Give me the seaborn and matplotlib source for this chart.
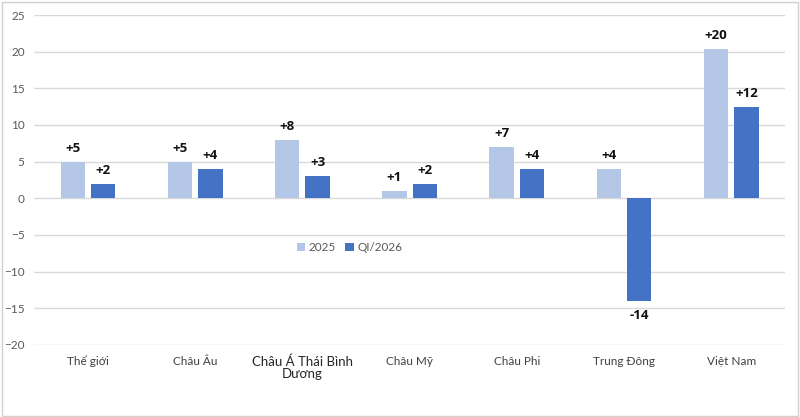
import pandas as pd
import matplotlib
matplotlib.use("Agg")
import matplotlib.pyplot as plt
import seaborn as sns
from matplotlib.patches import Rectangle

# Data
regions = ['Thế giới', 'Châu Âu', 'Châu Á Thái Bình\nDương', 'Châu Mỹ',
           'Châu Phi', 'Trung Đông', 'Việt Nam']
val_2025 = [5, 5, 8, 1, 7, 4, 20.4]
val_q1_2026 = [2, 4, 3, 2, 4, -14, 12.4]
lbl_2025 = ['+5', '+5', '+8', '+1', '+7', '+4', '+20']
lbl_q1_2026 = ['+2', '+4', '+3', '+2', '+4', '-14', '+12']
series = ['2025', 'QI/2026']

df = pd.DataFrame({
    'Region': regions * 2,
    'Series': [series[0]] * len(regions) + [series[1]] * len(regions),
    'Value': val_2025 + val_q1_2026,
})

sns.set_style('white')
plt.rcParams['font.family'] = ['Lato', 'DejaVu Sans']

fig = plt.figure(figsize=(8, 4.17), dpi=100)
ax = fig.add_axes([0.043, 0.173, 0.938, 0.791])

sns.barplot(data=df, x='Region', y='Value', hue='Series', order=regions,
            hue_order=series, palette=['#B4C7E7', '#4472C4'], saturation=1,
            width=0.566, gap=0.2, linewidth=0, ax=ax, zorder=3)

# value labels
for cont, labels in zip(ax.containers, [lbl_2025, lbl_q1_2026]):
    for bar, txt in zip(cont, labels):
        h = bar.get_height()
        x = bar.get_x() + bar.get_width() / 2
        if h >= 0:
            ax.annotate(txt, (x, h), xytext=(0, 5), textcoords='offset points',
                        ha='center', va='bottom', fontsize=9.5, fontweight='bold',
                        family=['Open Sans', 'DejaVu Sans'], color='#111111')
        else:
            ax.annotate(txt, (x, h), xytext=(0, -6), textcoords='offset points',
                        ha='center', va='top', fontsize=9.5, fontweight='bold',
                        family=['Open Sans', 'DejaVu Sans'], color='#111111')

ax.set_ylim(-20, 25)
ax.set_yticks(range(-20, 30, 5))
ax.set_xlim(-0.5, 6.5)
ax.yaxis.grid(True, color='#D9D9D9', linewidth=1, zorder=0)
for s in ax.spines.values():
    s.set_visible(False)
ax.set_xlabel('')
ax.set_ylabel('')
ax.tick_params(axis='y', length=0, labelsize=8.5, labelcolor='#595959', pad=7)
ax.tick_params(axis='x', length=0, labelsize=8.5, labelcolor='#404040', pad=8)
for t in ax.get_xticklabels():
    t.set_linespacing(1.0)
ax.get_xticklabels()[2].set_fontsize(9.5)
ax.get_xticklabels()[2].set_color('#262626')

ax.legend(loc='center', bbox_to_anchor=(0.42, 0.295), ncol=2, frameon=False,
          fontsize=8.5, handlelength=0.7, handleheight=0.7, handletextpad=0.3,
          columnspacing=0.8, labelcolor='#595959')

fig.patches.append(Rectangle((0.002, 0.003), 0.995, 0.993, transform=fig.transFigure,
                             fill=False, edgecolor='#D0D0D0', linewidth=1))

fig.savefig('out.png', dpi=100)
